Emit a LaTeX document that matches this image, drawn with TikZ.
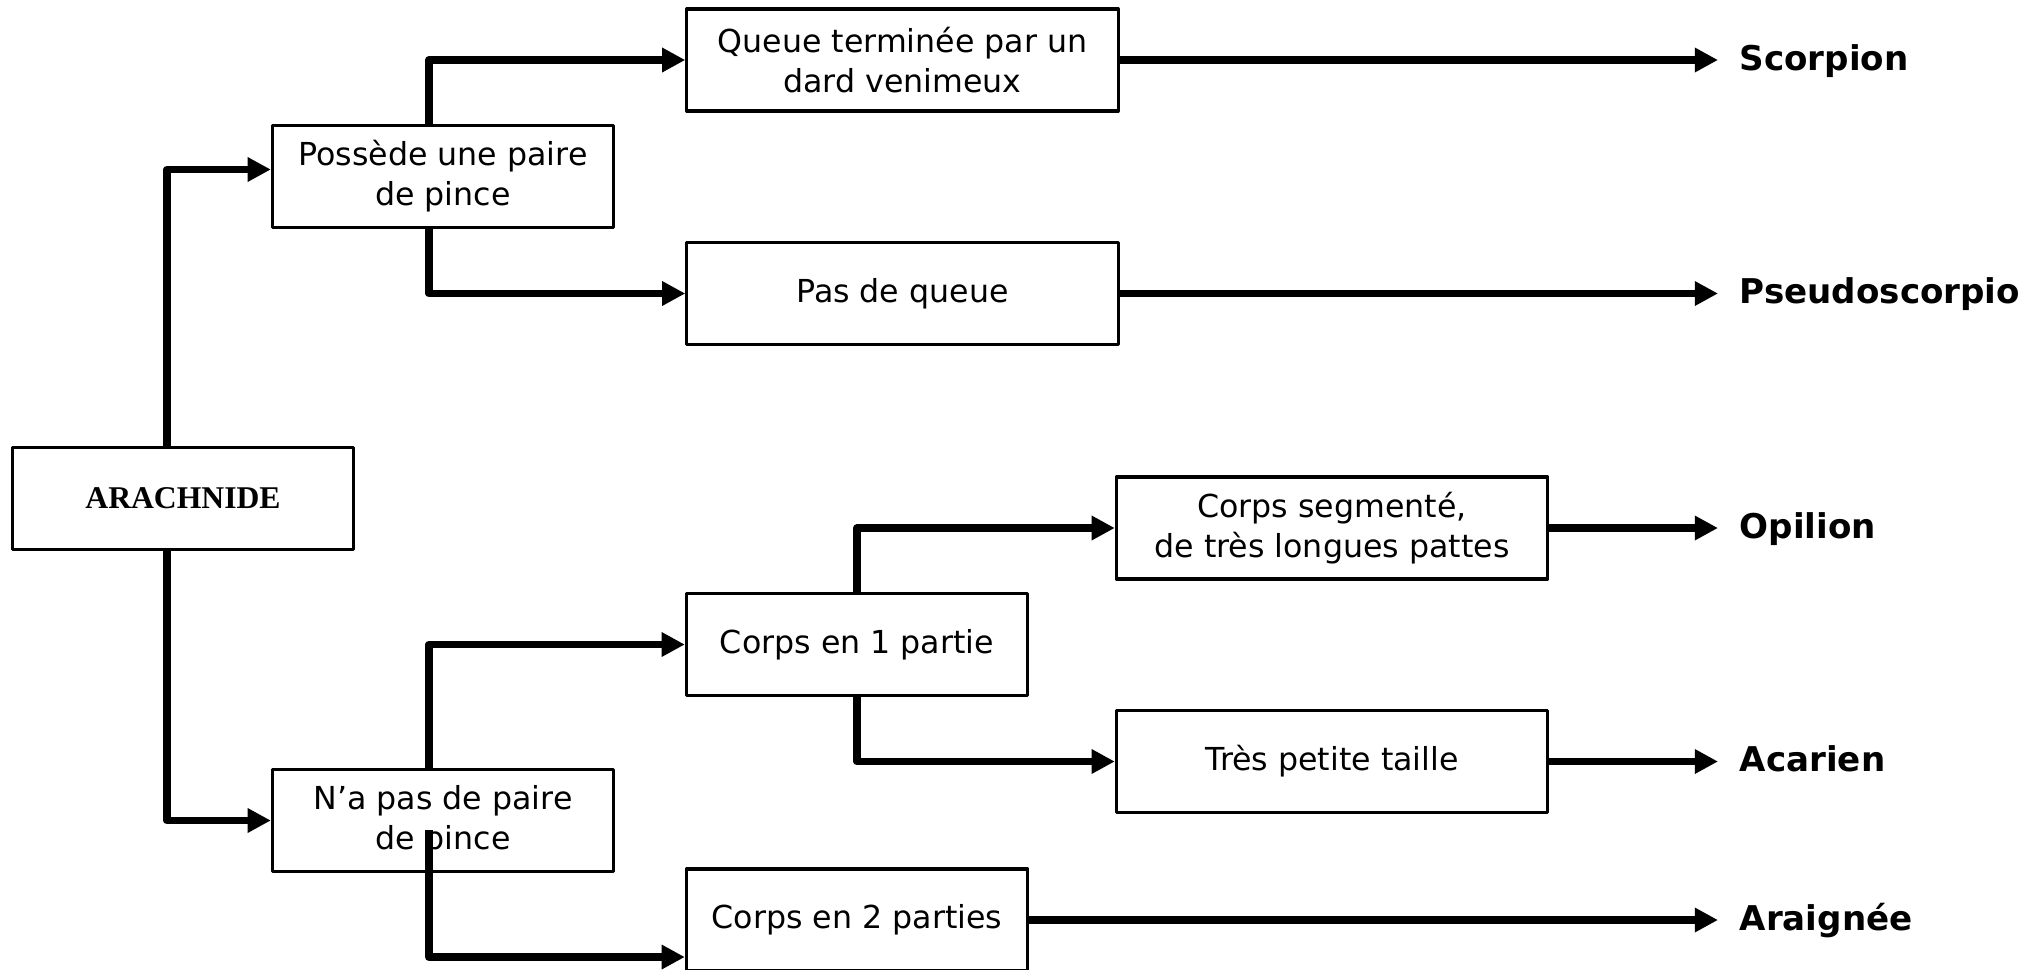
\documentclass[tikz,border=0pt]{standalone}
\usepackage{fontspec}
\setmainfont{DejaVu Sans}
\newfontfamily\titlefont{Liberation Serif}
\usetikzlibrary{positioning,arrows.meta}
\tikzset{
    x=0.01cm,
    y=-0.01cm,
    block/.style = {
        draw,
        shape=rectangle,
        minimum height=1.02cm,
        minimum width=3.41cm,
        line width=0.9pt,
        align=center,
        font=\fontsize{9}{11.4}\selectfont
    },
    wide/.style = {
        block,
        minimum width=4.31cm
    },
    root/.style = {
        block,
        minimum width=3.40cm,
        font=\titlefont\bfseries\fontsize{9}{11}\selectfont
    },
    animal/.style = {
        shape=rectangle,
        anchor=west,
        inner xsep=0.21cm,
        inner ysep=0pt,
        text height=5.9pt,
        text depth=0pt,
        font=\bfseries\fontsize{9.7}{12}\selectfont
    },
    >={Triangle[length=6.6pt,width=6.6pt]},
    every path/.append style={line join=round},
}
\begin{document}
\begin{tikzpicture}
            \path[use as bounding box, fill=white] (0,0) rectangle (2044,969);

            \node[root] (arach) at (183,498.5) {ARACHNIDE};
            \node[block] (pince) at (443,176.5) {Possède une paire\\de pince};
            \node[block] (nopince) at (443,820.5) {N’a pas de paire\\de pince};
            \node[wide] (queue) at (902.5,60) {Queue terminée par un\\dard venimeux};
            \node[wide] (noqueue) at (902.5,293.5) {Pas de queue};
            \node[block] (corps1) at (857,644.5) {Corps en 1 partie};
            \node[wide] (segm) at (1332,528) {Corps segmenté,\\de très longues pattes};
            \node[wide] (petite) at (1332,761.5) {Très petite taille};
            \node[block] (corps2) at (857,920) {Corps en 2 parties};

            \node[animal] (scorpion) at (1718,60) {Scorpion};
            \node[animal] (pseudo) at (1718,293.5) {Pseudoscorpio};
            \node[animal] (opilion) at (1718,528) {Opilion};
            \node[animal] (acarien) at (1718,761.5) {Acarien};
            \node[animal] (araignee) at (1718,920) {Araignée};

            \coordinate (split) at (429,830);

            \path[draw, ->, line width=2.2pt] ([xshift=-1.6mm]arach.north) |- ([yshift=0.7mm]pince.west);
            \path[draw, ->, line width=2.2pt] ([xshift=-1.6mm]arach.south) |- (nopince.west);
            \path[draw, ->, line width=2.2pt] ([xshift=-1.4mm]pince.north) |- (queue.west);
            \path[draw, ->, line width=2.2pt] ([xshift=-1.4mm]pince.south) |- (noqueue.west);
            \path[draw, ->, line width=2.2pt] ([xshift=-1.4mm]nopince.north) |- (corps1.west);
            \path[draw, ->, line width=2.2pt] (split) |- ([yshift=-3.7mm]corps2.west);
            \path[draw, ->, line width=2.2pt] (corps1.north) |- (segm.west);
            \path[draw, ->, line width=2.2pt] (corps1.south) |- (petite.west);

            \path[draw, ->, line width=2.2pt] (queue.east) -- (queue.east -| scorpion.west);
            \path[draw, ->, line width=2.2pt] (noqueue.east) -- (noqueue.east -| pseudo.west);
            \path[draw, ->, line width=2.2pt] (segm.east) -- (segm.east -| opilion.west);
            \path[draw, ->, line width=2.2pt] (petite.east) -- (petite.east -| acarien.west);
            \path[draw, ->, line width=2.2pt] (corps2.east) -- (corps2.east -| araignee.west);
        \end{tikzpicture}
\end{document}
